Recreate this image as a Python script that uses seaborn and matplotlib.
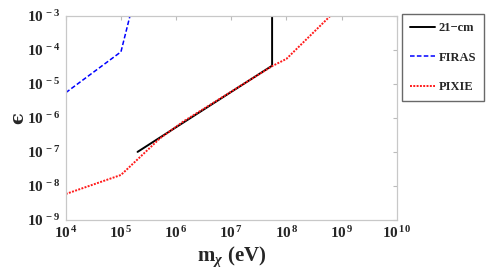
import matplotlib
matplotlib.use("Agg")
import matplotlib.pyplot as plt
import matplotlib.ticker as mticker
import numpy as np
import pandas as pd
import seaborn as sns

# datos (m_chi en eV, epsilon)
cm21_m = [2e5, 5.5e7, 5.5e7]
cm21_eps = [1.0e-7, 3.4e-5, 1e-3]

firas_m = [1e4, 1e5, 1.46e5]
firas_eps = [5.5e-6, 8.7e-5, 1e-3]

pixie_m = [1e4, 1e5, 5.1e5, 1.35e6, 5.5e7, 1e8, 6.3e8]
pixie_eps = [5.8e-9, 2.1e-8, 2.5e-7, 7.8e-7, 3.3e-5, 5.4e-5, 1e-3]

sns.set_style("white")
plt.rcParams['font.family'] = ['Liberation Serif', 'DejaVu Serif']
plt.rcParams['font.weight'] = 'bold'
plt.rcParams['mathtext.fontset'] = 'custom'
plt.rcParams['mathtext.rm'] = 'Liberation Serif:bold'
plt.rcParams['mathtext.bf'] = 'Liberation Serif:bold'
plt.rcParams['mathtext.it'] = 'Liberation Serif:bold:italic'

fig = plt.figure(figsize=(4.91, 2.76), dpi=100)
ax = fig.add_axes([0.134, 0.203, 0.674, 0.740])

df21 = pd.DataFrame({'m': cm21_m, 'eps': cm21_eps})
dff = pd.DataFrame({'m': firas_m, 'eps': firas_eps})
dfp = pd.DataFrame({'m': pixie_m, 'eps': pixie_eps})

sns.lineplot(data=df21, x='m', y='eps', ax=ax, color='black', lw=1.4,
             sort=False, estimator=None, label='21\u2212cm')
sns.lineplot(data=dff, x='m', y='eps', ax=ax, color='blue', lw=1.1,
             sort=False, estimator=None, label='FIRAS')
sns.lineplot(data=dfp, x='m', y='eps', ax=ax, color='#ff1a1a', lw=1.4,
             sort=False, estimator=None, label='PIXIE')
ax.lines[1].set_dashes([3, 1.5])
ax.lines[2].set_dashes([1, 0.7])

ax.set_xscale('log')
ax.set_yscale('log')
ax.set_xlim(1e4, 1e10)
ax.set_ylim(1e-9, 1e-3)

def fmt(v, pos):
    e = int(round(np.log10(v)))
    return r'$10^{\,%d}$' % e

ax.xaxis.set_major_locator(mticker.LogLocator(base=10, numticks=10))
ax.yaxis.set_major_locator(mticker.LogLocator(base=10, numticks=10))
ax.xaxis.set_minor_locator(mticker.NullLocator())
ax.yaxis.set_minor_locator(mticker.NullLocator())
ax.xaxis.set_major_formatter(mticker.FuncFormatter(fmt))
ax.yaxis.set_major_formatter(mticker.FuncFormatter(fmt))
ax.tick_params(axis='both', which='major', direction='in', length=3,
               color='#bbbbbb', labelsize=11, top=True, right=True, pad=4)

for s in ax.spines.values():
    s.set_color('#c8c8c8')
    s.set_linewidth(0.9)

ax.set_xlabel(r'$\mathrm{m}_{\chi}$ (eV)', fontsize=15, fontweight='bold', labelpad=2)
ax.set_ylabel('\u03f5', fontsize=14, fontweight='bold', labelpad=0,
              family=['DejaVu Serif'])

leg = ax.legend(loc='upper left', bbox_to_anchor=(1.0, 1.034), frameon=True,
                fancybox=False, fontsize=9, handlelength=2.0, borderpad=0.65,
                labelspacing=1.4, handletextpad=0.3, borderaxespad=0.42)
leg.get_frame().set_edgecolor('#444444')
leg.get_frame().set_linewidth(1.0)
for t in leg.get_texts():
    t.set_fontweight('bold')

fig.savefig('out.png', dpi=100)
